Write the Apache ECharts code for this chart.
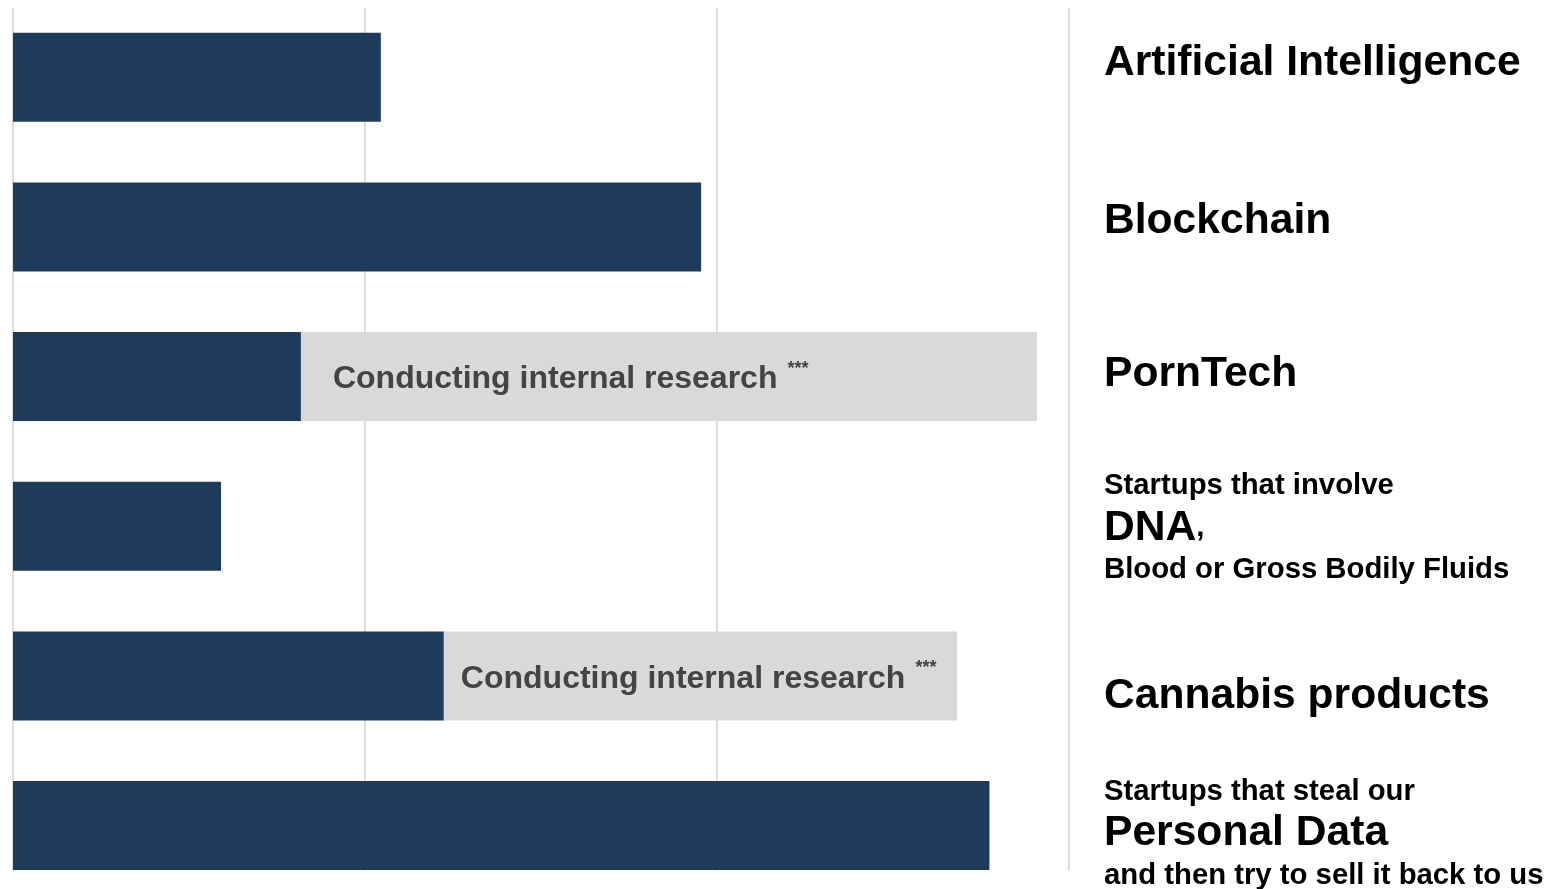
<!DOCTYPE html>
<html>
<head>
<meta charset="utf-8">
<title>Startups</title>
<script src="https://cdn.jsdelivr.net/npm/echarts@6/dist/echarts.min.js"></script>
<style>
  html, body { margin: 0; padding: 0; background: #fff; }
  #chart { width: 1550px; height: 889px; }
</style>
</head>
<body>
<div id="chart"></div>
<script>
// categories, top to bottom
const categories = ["Artificial Intelligence", "Blockchain", "PornTech", "DNA", "Cannabis products", "Personal Data"];
// dark bar lengths (axis 0..30)
const barValues = [10.45, 19.55, 8.18, 5.91, 12.24, 27.74];
// where the grey "research" part ends, if any
const researchEnds = [null, null, 29.09, null, 26.82, null];
const xTicks = [0, 10, 20, 30];

const researchValues = researchEnds.map((end, i) => (end == null ? null : end - barValues[i]));

// the right hand labels
const labelText = {
  "Artificial Intelligence": "{b|Artificial Intelligence}",
  Blockchain: "{b|Blockchain}",
  PornTech: "{b|PornTech}",
  DNA: "{s|Startups that involve}\n{b|DNA}{s|,}\n{s|Blood or Gross Bodily Fluids}",
  "Cannabis products": "{b|Cannabis products}",
  "Personal Data": "{s|Startups that steal our}\n{b|Personal Data}\n{s|and then try to sell it back to us}",
};
const labelPad = [[0, 0, 28, 0], [0, 0, 11, 0], [0, 0, 4, 0], [4, 0, 0, 0], [41, 0, 0, 0], [16, 0, 0, 0]];
const labelDistance = [0, 0, 32, 0, 17, 0];

const font = "'Liberation Sans', Arial, Helvetica, sans-serif";
const chart = echarts.init(document.getElementById("chart"));

const option = {
  animation: false,
  textStyle: { fontFamily: font },
  grid: [
    // only for the vertical grid lines
    { left: 13, width: 1056, top: 8, height: 863, outerBoundsMode: "none" },
    // bars
    { left: 13, width: 1056, top: 2.4, height: 898, outerBoundsMode: "none" },
  ],
  xAxis: [
    {
      gridIndex: 0,
      type: "value",
      min: xTicks[0],
      max: xTicks[xTicks.length - 1],
      interval: xTicks[1] - xTicks[0],
      axisLine: { show: false },
      axisTick: { show: false },
      axisLabel: { show: false },
      splitLine: { show: true, lineStyle: { color: "#dddddd", width: 2 } },
    },
    {
      gridIndex: 1,
      type: "value",
      min: xTicks[0],
      max: xTicks[xTicks.length - 1],
      show: false,
    },
  ],
  yAxis: [
    { gridIndex: 0, type: "value", min: 0, max: 1, show: false },
    {
      gridIndex: 1,
      type: "category",
      inverse: true,
      position: "right",
      data: categories.map((c, i) => ({ value: c, textStyle: { padding: labelPad[i] } })),
      axisLine: { show: false },
      axisTick: { show: false },
      splitLine: { show: false },
      axisLabel: {
        margin: 35,
        align: "left",
        color: "#000",
        formatter: (v) => labelText[v],
        rich: {
          b: { fontSize: 42.6, fontWeight: "bold", lineHeight: 48, color: "#000", fontFamily: font },
          s: { fontSize: 29.3, fontWeight: "bold", lineHeight: 36, color: "#000", fontFamily: font },
        },
      },
    },
  ],
  series: [
    {
      name: "startups",
      type: "bar",
      xAxisIndex: 1,
      yAxisIndex: 1,
      stack: "total",
      barWidth: 89,
      itemStyle: { color: "#1f3b5a" },
      data: barValues,
    },
    {
      name: "research",
      type: "bar",
      xAxisIndex: 1,
      yAxisIndex: 1,
      stack: "total",
      barWidth: 89,
      itemStyle: { color: "#d9d9d9" },
      data: researchValues.map((v, i) => ({
        value: v,
        label: { distance: labelDistance[i] },
      })),
      label: {
        show: true,
        position: "insideLeft",
        offset: [0, 3],
        formatter: "{t|Conducting internal research}{sup|***}",
        rich: {
          t: { fontSize: 32, fontWeight: "bold", color: "#444", lineHeight: 40, fontFamily: font },
          sup: { fontSize: 18, fontWeight: "bold", color: "#444", verticalAlign: "top", padding: [0, 0, 0, 10], fontFamily: font },
        },
      },
    },
  ],
};

chart.setOption(option);
</script>
</body>
</html>
